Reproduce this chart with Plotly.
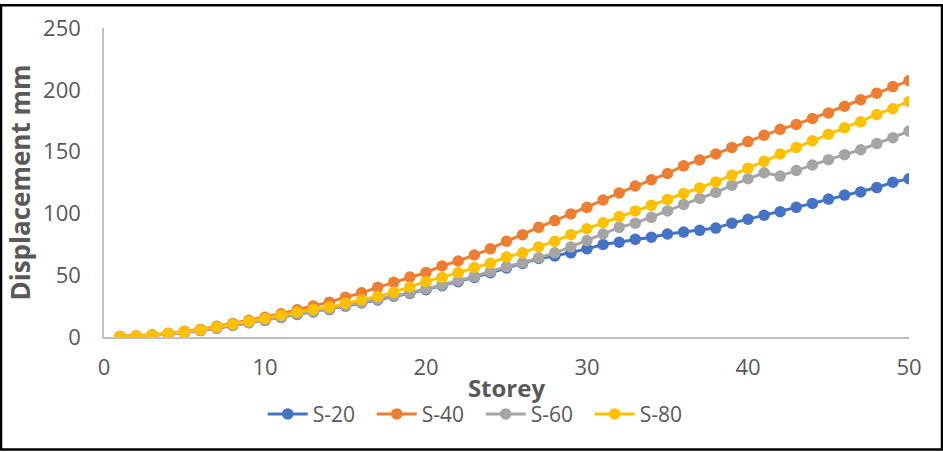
import plotly.graph_objects as go

storey = list(range(1, 51))

s20 = [0.4, 0.7, 1.4, 2.5, 3.7, 5.2, 7.1, 9.3, 11.5, 13.5,
       15.8, 18.2, 20.3, 22.2, 25.0, 27.5, 30.0, 33.0, 35.3, 38.3,
       41.5, 44.8, 48.2, 52.0, 55.8, 59.5, 63.5, 65.5, 68.1, 71.3,
       74.8, 76.7, 79.0, 80.7, 83.3, 84.9, 86.3, 88.1, 92.1, 95.3,
       98.5, 101.4, 104.9, 108.1, 111.6, 114.8, 117.4, 120.9, 125.2, 128.0]

s40 = [0.5, 0.9, 1.8, 3.1, 4.6, 6.3, 8.6, 11.0, 13.5, 16.0,
       18.8, 22.0, 25.0, 28.2, 32.2, 35.7, 40.2, 44.2, 48.5, 52.2,
       57.5, 61.5, 66.3, 71.3, 77.5, 82.8, 88.7, 94.2, 99.6, 104.9,
       110.8, 116.6, 122.2, 127.2, 132.3, 138.5, 143.3, 148.1, 153.4, 158.1,
       163.2, 168.0, 172.0, 176.8, 181.3, 186.7, 192.0, 197.3, 202.6, 207.4]

s60 = [0.4, 0.7, 1.4, 2.6, 3.8, 5.3, 7.3, 9.5, 11.8, 13.8,
       16.2, 18.6, 20.7, 22.6, 25.5, 28.0, 30.5, 33.5, 35.8, 38.9,
       42.1, 45.5, 49.0, 53.0, 56.9, 60.1, 64.1, 68.1, 72.9, 78.0,
       83.3, 88.7, 92.1, 96.8, 102.0, 107.3, 112.1, 116.9, 122.8, 128.0,
       132.9, 130.2, 134.7, 139.2, 143.5, 147.5, 151.5, 156.5, 161.3, 166.6]

s80 = [0.5, 0.8, 1.6, 2.9, 4.2, 5.8, 8.0, 10.4, 12.8, 14.9,
       17.6, 20.2, 22.4, 24.2, 27.4, 30.1, 32.7, 36.2, 40.5, 45.0,
       48.2, 52.2, 56.2, 59.7, 64.7, 68.1, 72.9, 77.5, 82.8, 87.6,
       92.4, 97.4, 102.0, 106.5, 111.3, 116.1, 120.6, 125.4, 130.8, 136.6,
       142.2, 148.1, 153.4, 158.7, 164.0, 169.3, 174.1, 180.0, 184.7, 190.6]

series = [("S-20", s20, "#4472C4"),
          ("S-40", s40, "#ED7D31"),
          ("S-60", s60, "#A5A5A5"),
          ("S-80", s80, "#FFC000")]

W, H = 943, 452
ML, MR, MT, MB = 104, 34, 24, 115
pw, ph = W - ML - MR, H - MT - MB

fig = go.Figure()
for name, vals, col in series:
    fig.add_trace(go.Scatter(
        x=storey, y=vals, name=name, mode="lines+markers",
        line=dict(color=col, width=3),
        marker=dict(color=col, size=11.5, symbol="circle"),
    ))

font_family = "Open Sans, Arial"
grey = "#595959"
fig.update_layout(
    width=W, height=H,
    margin=dict(l=ML, r=MR, t=MT, b=MB),
    paper_bgcolor="white", plot_bgcolor="white",
    font=dict(family=font_family, color=grey, size=21),
    showlegend=True,
    legend=dict(orientation="h", x=0.468, xanchor="center", y=-0.25, yanchor="middle",
                font=dict(size=21, color=grey, family=font_family),
                itemwidth=40, entrywidth=54, entrywidthmode="pixels",
                tracegroupgap=0, bgcolor="rgba(0,0,0,0)"),
    xaxis=dict(range=[0, 50], tickvals=[0, 10, 20, 30, 40, 50],
               showgrid=False, zeroline=False, showline=True,
               linecolor="#BFBFBF", linewidth=1.5, ticks="", ticklen=0,
               ticklabelstandoff=10,
               tickfont=dict(size=22, color=grey, family=font_family),
               title=dict(text="<b>Storey</b>", standoff=0,
                          font=dict(size=24, color=grey, family=font_family))),
    yaxis=dict(range=[0, 250], tickvals=[0, 50, 100, 150, 200, 250],
               showgrid=False, zeroline=False, showline=True,
               linecolor="#BFBFBF", linewidth=1.5, ticks="", ticklen=0,
               tickfont=dict(size=22, color=grey, family=font_family),
               ticklabelstandoff=17,
               title=dict(text="<b>Displacement mm</b>", standoff=5,
                          font=dict(size=26, color=grey, family=font_family))),
)

fig.add_shape(type="rect", xref="paper", yref="paper",
              x0=-ML / pw + 1 / pw, x1=1 + MR / pw - 1 / pw,
              y0=-MB / ph + 1 / ph, y1=1 + MT / ph - 1 / ph,
              line=dict(color="black", width=2.5), fillcolor="rgba(0,0,0,0)",
              layer="above")

fig.write_html("out.html", config={"displayModeBar": False},
               post_script="document.body.style.margin='0';")
